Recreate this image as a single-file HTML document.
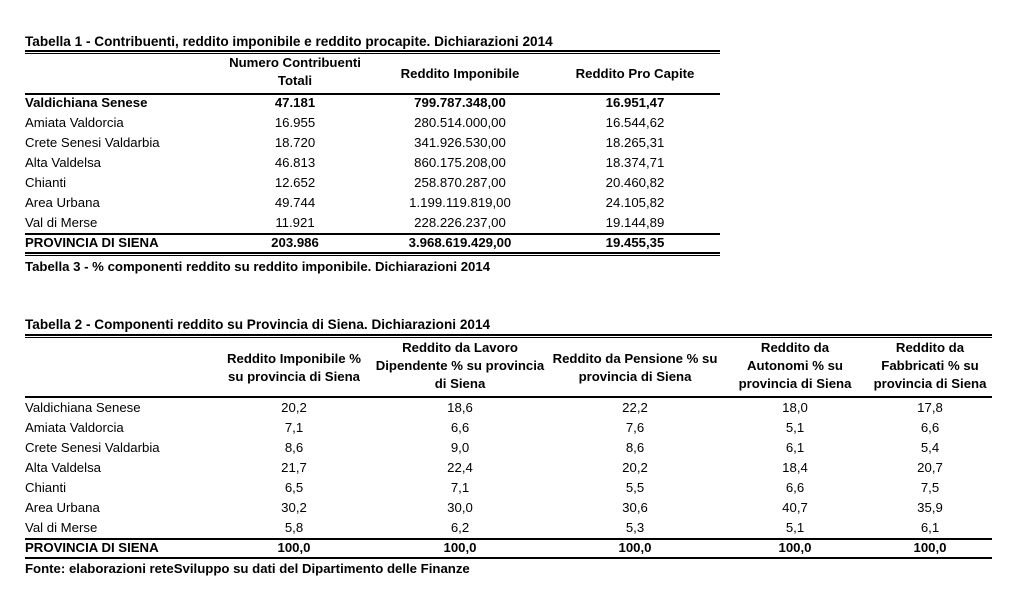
<!DOCTYPE html>
<html><head><meta charset="utf-8"><style>
body{margin:0;width:1024px;height:599px;background:#fff;position:relative;overflow:hidden;font-family:"Liberation Sans",sans-serif;font-size:13.2px;color:#000}
.t{position:absolute;line-height:16px;white-space:nowrap}
.c{position:absolute;line-height:18px;text-align:center;white-space:nowrap;transform:translateX(-50%)}
.b{font-weight:bold}
.r{position:absolute;background:#000}
</style></head><body>
<!-- Table 1 -->
<div class="t b" style="left:25px;top:34px;font-size:13.6px">Tabella 1 - Contribuenti, reddito imponibile e reddito procapite. Dichiarazioni 2014</div>
<div class="r" style="left:25px;top:50px;width:695px;height:2px"></div>
<div class="r" style="left:25px;top:53px;width:695px;height:1px"></div>
<div class="c b" style="left:295px;top:54px">Numero Contribuenti<br>Totali</div>
<div class="c b" style="left:460px;top:65px">Reddito Imponibile</div>
<div class="c b" style="left:635px;top:65px">Reddito Pro Capite</div>
<div class="r" style="left:25px;top:93px;width:695px;height:2px"></div>
<div class="t b" style="left:25px;top:95px">Valdichiana Senese</div><div class="c b" style="left:295px;top:94px">47.181</div><div class="c b" style="left:460px;top:94px">799.787.348,00</div><div class="c b" style="left:635px;top:94px">16.951,47</div>
<div class="t" style="left:25px;top:115px">Amiata Valdorcia</div><div class="c" style="left:295px;top:114px">16.955</div><div class="c" style="left:460px;top:114px">280.514.000,00</div><div class="c" style="left:635px;top:114px">16.544,62</div>
<div class="t" style="left:25px;top:135px">Crete Senesi Valdarbia</div><div class="c" style="left:295px;top:134px">18.720</div><div class="c" style="left:460px;top:134px">341.926.530,00</div><div class="c" style="left:635px;top:134px">18.265,31</div>
<div class="t" style="left:25px;top:155px">Alta Valdelsa</div><div class="c" style="left:295px;top:154px">46.813</div><div class="c" style="left:460px;top:154px">860.175.208,00</div><div class="c" style="left:635px;top:154px">18.374,71</div>
<div class="t" style="left:25px;top:175px">Chianti</div><div class="c" style="left:295px;top:174px">12.652</div><div class="c" style="left:460px;top:174px">258.870.287,00</div><div class="c" style="left:635px;top:174px">20.460,82</div>
<div class="t" style="left:25px;top:195px">Area Urbana</div><div class="c" style="left:295px;top:194px">49.744</div><div class="c" style="left:460px;top:194px">1.199.119.819,00</div><div class="c" style="left:635px;top:194px">24.105,82</div>
<div class="t" style="left:25px;top:215px">Val di Merse</div><div class="c" style="left:295px;top:214px">11.921</div><div class="c" style="left:460px;top:214px">228.226.237,00</div><div class="c" style="left:635px;top:214px">19.144,89</div>
<div class="r" style="left:25px;top:233px;width:695px;height:2px"></div>
<div class="t b" style="left:25px;top:235px">PROVINCIA DI SIENA</div><div class="c b" style="left:295px;top:234px">203.986</div><div class="c b" style="left:460px;top:234px">3.968.619.429,00</div><div class="c b" style="left:635px;top:234px">19.455,35</div>
<div class="r" style="left:25px;top:252px;width:695px;height:2px"></div>
<div class="r" style="left:25px;top:255px;width:695px;height:1px"></div>
<div class="t b" style="left:25px;top:259px">Tabella 3 - % componenti reddito su reddito imponibile. Dichiarazioni 2014</div>
<!-- Table 2 -->
<div class="t b" style="left:25px;top:317px;font-size:13.6px">Tabella 2 - Componenti reddito su Provincia di Siena. Dichiarazioni 2014</div>
<div class="r" style="left:25px;top:334px;width:967px;height:2px"></div>
<div class="r" style="left:25px;top:337px;width:967px;height:1px"></div>
<div class="c b" style="left:294px;top:350px">Reddito Imponibile %<br>su provincia di Siena</div>
<div class="c b" style="left:460px;top:339px">Reddito da Lavoro<br>Dipendente % su provincia<br>di Siena</div>
<div class="c b" style="left:635px;top:350px">Reddito da Pensione % su<br>provincia di Siena</div>
<div class="c b" style="left:795px;top:339px">Reddito da<br>Autonomi % su<br>provincia di Siena</div>
<div class="c b" style="left:930px;top:339px">Reddito da<br>Fabbricati % su<br>provincia di Siena</div>
<div class="r" style="left:25px;top:396px;width:967px;height:2px"></div>
<div class="t" style="left:25px;top:400px">Valdichiana Senese</div><div class="c" style="left:294px;top:399px">20,2</div><div class="c" style="left:460px;top:399px">18,6</div><div class="c" style="left:635px;top:399px">22,2</div><div class="c" style="left:795px;top:399px">18,0</div><div class="c" style="left:930px;top:399px">17,8</div>
<div class="t" style="left:25px;top:420px">Amiata Valdorcia</div><div class="c" style="left:294px;top:419px">7,1</div><div class="c" style="left:460px;top:419px">6,6</div><div class="c" style="left:635px;top:419px">7,6</div><div class="c" style="left:795px;top:419px">5,1</div><div class="c" style="left:930px;top:419px">6,6</div>
<div class="t" style="left:25px;top:440px">Crete Senesi Valdarbia</div><div class="c" style="left:294px;top:439px">8,6</div><div class="c" style="left:460px;top:439px">9,0</div><div class="c" style="left:635px;top:439px">8,6</div><div class="c" style="left:795px;top:439px">6,1</div><div class="c" style="left:930px;top:439px">5,4</div>
<div class="t" style="left:25px;top:460px">Alta Valdelsa</div><div class="c" style="left:294px;top:459px">21,7</div><div class="c" style="left:460px;top:459px">22,4</div><div class="c" style="left:635px;top:459px">20,2</div><div class="c" style="left:795px;top:459px">18,4</div><div class="c" style="left:930px;top:459px">20,7</div>
<div class="t" style="left:25px;top:480px">Chianti</div><div class="c" style="left:294px;top:479px">6,5</div><div class="c" style="left:460px;top:479px">7,1</div><div class="c" style="left:635px;top:479px">5,5</div><div class="c" style="left:795px;top:479px">6,6</div><div class="c" style="left:930px;top:479px">7,5</div>
<div class="t" style="left:25px;top:500px">Area Urbana</div><div class="c" style="left:294px;top:499px">30,2</div><div class="c" style="left:460px;top:499px">30,0</div><div class="c" style="left:635px;top:499px">30,6</div><div class="c" style="left:795px;top:499px">40,7</div><div class="c" style="left:930px;top:499px">35,9</div>
<div class="t" style="left:25px;top:520px">Val di Merse</div><div class="c" style="left:294px;top:519px">5,8</div><div class="c" style="left:460px;top:519px">6,2</div><div class="c" style="left:635px;top:519px">5,3</div><div class="c" style="left:795px;top:519px">5,1</div><div class="c" style="left:930px;top:519px">6,1</div>
<div class="r" style="left:25px;top:538px;width:967px;height:2px"></div>
<div class="t b" style="left:25px;top:540px">PROVINCIA DI SIENA</div><div class="c b" style="left:294px;top:539px">100,0</div><div class="c b" style="left:460px;top:539px">100,0</div><div class="c b" style="left:635px;top:539px">100,0</div><div class="c b" style="left:795px;top:539px">100,0</div><div class="c b" style="left:930px;top:539px">100,0</div>
<div class="r" style="left:25px;top:557px;width:967px;height:2px"></div>
<div class="t b" style="left:25px;top:561px">Fonte: elaborazioni reteSviluppo su dati del Dipartimento delle Finanze</div>
</body></html>
